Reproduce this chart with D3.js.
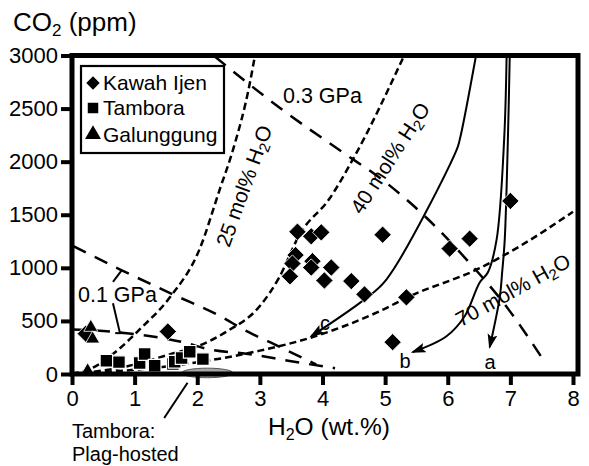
<!DOCTYPE html>
<html>
<head>
<meta charset="utf-8">
<script src="https://cdn.jsdelivr.net/npm/d3@7"></script>
<style>
body{margin:0;background:#fff;}
text{font-family:"Liberation Sans",Arial,sans-serif;fill:#000;}
</style>
</head>
<body>
<svg id="chart" width="589" height="466"></svg>
<script>
// values
var xTicks=[0,1,2,3,4,5,6,7,8];
var yTicks=[0,500,1000,1500,2000,2500,3000];

var kawahH2O=[0.22,1.53,3.6,3.82,3.98,4.96,6.03,6.35,7.0,3.57,3.52,3.48,3.84,3.82,4.14,4.03,4.46,4.67,5.34,5.12];
var kawahCO2=[380,400,1340,1297,1334,1312,1181,1275,1630,1120,1040,920,1063,1003,1003,881,875,750,722,300];

var tamboraH2O=[0.55,0.75,1.08,1.16,1.32,1.61,1.64,1.75,1.88,2.09];
var tamboraCO2=[125,112,103,188,78,94,115,150,209,140];

var galungH2O=[0.25,0.3,0.33];
var galungCO2=[30,440,330];

// isobars
var gpa03H2O=[2.28,3.37,4.27,5.02,5.66,6.30,6.93,7.57];
var gpa03CO2=[2990,2484,2109,1800,1472,1078,640,94];
var gpa01aH2O=[0.02,0.77,1.61,2.36,2.79,3.3,3.9];
var gpa01aCO2=[1205,984,750,547,403,260,90];
var gpa01bH2O=[0,0.73,1.8,2.17,2.84,3.5,4.2];
var gpa01bCO2=[420,394,295,235,187,120,55];

// isopleths
var mol25H2O=[0,0.3,0.72,1.08,1.56,2.04,2.36,2.57,2.84,2.92];
var mol25CO2=[0,50,220,420,720,1180,1740,2110,2740,2995];
var mol40H2O=[0,0.9,1.56,2.04,2.47,3.0,3.3,3.64,4.11,4.48,5.3];
var mol40CO2=[0,75,185,270,400,640,900,1320,1650,2016,2995];
var mol70H2O=[0,1,2,3,3.8,4.91,5.39,6.5,7.14,8.0];
var mol70CO2=[0,40,110,220,340,591,731,994,1200,1528];

// degassing paths
var pathCH2O=[6.45,6.19,6.14,5.02,4.67,3.82];
var pathCCO2=[2995,2203,2109,890,703,356];
var pathBH2O=[6.94,6.9,6.78,6.64,6.51,6.27,5.98,5.44];
var pathBCO2=[2995,2203,1266,956,862,544,356,206];
var pathAH2O=[6.99,6.96,6.91,6.87,6.83,6.67];
var pathACO2=[2995,2203,1266,966,722,253];

// plag-hosted field
var plagH2O=[1.75,2.57];
var plagCO2=[-35,55];

function pts(xs,ys){ return xs.map(function(v,i){ return [v,ys[i]]; }); }

var svg=d3.select("#chart");
var x=d3.scaleLinear().domain([0,8]).range([72,573]);
var y=d3.scaleLinear().domain([0,3000]).range([374,55.5]);

var line=d3.line()
	.x(function(d){ return x(d[0]); })
	.y(function(d){ return y(d[1]); })
	.curve(d3.curveMonotoneX);
var pathLine=d3.line()
	.x(function(d){ return x(d[0]); })
	.y(function(d){ return y(d[1]); })
	.curve(d3.curveCatmullRom);

svg.append("defs").append("marker")
	.attr("id","arr")
	.attr("markerUnits","userSpaceOnUse")
	.attr("markerWidth",16).attr("markerHeight",12)
	.attr("refX",13).attr("refY",5)
	.attr("orient","auto")
	.append("path")
	.attr("d","M0,0 L15,5 L0,10 L3,5 z")
	.attr("fill","#000");

svg.append("clipPath").attr("id","plot").append("rect")
	.attr("x",x(0)).attr("y",y(3000)).attr("width",578-x(0)).attr("height",y(0)-y(3000));

var g=svg.append("g").attr("clip-path","url(#plot)");

// dashed isobars
[[gpa03H2O,gpa03CO2],[gpa01aH2O,gpa01aCO2],[gpa01bH2O,gpa01bCO2]].forEach(function(s){
	g.append("path")
	.attr("d",line(pts(s[0],s[1])))
	.attr("fill","none").attr("stroke","#000")
	.attr("stroke-width",2.5).attr("stroke-dasharray","14,10");
});
// dashed isopleths
[[mol25H2O,mol25CO2],[mol40H2O,mol40CO2],[mol70H2O,mol70CO2]].forEach(function(s){
	g.append("path")
	.attr("d",line(pts(s[0],s[1])))
	.attr("fill","none").attr("stroke","#000")
	.attr("stroke-width",2.5).attr("stroke-dasharray","7,4");
});
// solid paths with arrows
[[pathCH2O,pathCCO2],[pathBH2O,pathBCO2],[pathAH2O,pathACO2]].forEach(function(s){
	svg.append("path")
	.attr("d",pathLine(pts(s[0],s[1])))
	.attr("fill","none").attr("stroke","#000")
	.attr("stroke-width",2)
	.attr("marker-end","url(#arr)");
});

// leaders for 0.1 GPa
svg.append("line").attr("x1",x(0.654)).attr("y1",y(867)).attr("x2",x(0.793)).attr("y2",y(976))
	.attr("stroke","#000").attr("stroke-width",2);
svg.append("line").attr("x1",x(0.654)).attr("y1",y(667)).attr("x2",x(0.766)).attr("y2",y(385))
	.attr("stroke","#000").attr("stroke-width",2);
svg.append("line").attr("x1",x(0.69)).attr("y1",y(385)).attr("x2",x(0.85)).attr("y2",y(385))
	.attr("stroke","#000").attr("stroke-width",2);

// plag-hosted ellipse
svg.append("ellipse")
	.attr("cx",x((plagH2O[0]+plagH2O[1])/2))
	.attr("cy",y((plagCO2[0]+plagCO2[1])/2))
	.attr("rx",(x(plagH2O[1])-x(plagH2O[0]))/2)
	.attr("ry",(y(plagCO2[0])-y(plagCO2[1]))/2)
	.attr("fill","#a6a6a6").attr("stroke","#555").attr("stroke-width",1);
svg.append("line").attr("x1",x(1.845)).attr("y1",y(-82)).attr("x2",x(1.472)).attr("y2",y(-414))
	.attr("stroke","#000").attr("stroke-width",2);

// points
svg.append("g").selectAll("path").data(pts(tamboraH2O,tamboraCO2)).enter().append("path")
	.attr("d",d3.symbol().type(d3.symbolSquare).size(160))
	.attr("transform",function(d){ return "translate("+x(d[0])+","+y(d[1])+")"; })
	.attr("fill","#000").attr("stroke","#fff").attr("stroke-width",1.2);
svg.append("g").selectAll("path").data(pts(kawahH2O,kawahCO2)).enter().append("path")
	.attr("d",d3.symbol().type(d3.symbolSquare).size(150))
	.attr("transform",function(d){ return "translate("+x(d[0])+","+y(d[1])+") rotate(45)"; })
	.attr("fill","#000").attr("stroke","#fff").attr("stroke-width",0.8);
svg.append("g").selectAll("path").data(pts(galungH2O,galungCO2)).enter().append("path")
	.attr("d",d3.symbol().type(d3.symbolTriangle).size(85))
	.attr("transform",function(d){ return "translate("+x(d[0])+","+y(d[1])+")"; })
	.attr("fill","#000").attr("stroke","#fff").attr("stroke-width",0.8);

// axes
var xAxis=d3.axisBottom(x).tickValues(xTicks).tickSize(11).tickPadding(5).tickFormat(d3.format("d"));
var yAxis=d3.axisLeft(y).tickValues(yTicks).tickSize(11).tickPadding(3).tickFormat(d3.format("d"));
var gx=svg.append("g").attr("transform","translate(0,"+y(0)+")").call(xAxis);
var gy=svg.append("g").attr("transform","translate("+x(0)+",0)").call(yAxis);
[gx,gy].forEach(function(a){
	a.select(".domain").remove();
	a.selectAll(".tick line").attr("stroke","#000").attr("stroke-width",4);
	a.selectAll(".tick text").attr("font-size",22).attr("font-family","Liberation Sans, Arial, sans-serif");
});

// frame
svg.append("rect")
	.attr("x",x(0)).attr("y",y(3000))
	.attr("width",578-x(0)).attr("height",y(0)-y(3000))
	.attr("fill","none").attr("stroke","#000").attr("stroke-width",5);

// axis titles
var t1=svg.append("text").attr("x",13).attr("y",31).attr("font-size",26);
t1.append("tspan").text("CO");
t1.append("tspan").attr("font-size",17).attr("dy",5).text("2");
t1.append("tspan").attr("dy",-5).text(" (ppm)");

var t2=svg.append("text").attr("x",268).attr("y",435).attr("font-size",24.5);
t2.append("tspan").text("H");
t2.append("tspan").attr("font-size",16).attr("dy",5).text("2");
t2.append("tspan").attr("dy",-5).text("O (wt.%)");

// legend
svg.append("rect").attr("x",81).attr("y",66).attr("width",143).attr("height",87)
	.attr("fill","#fff").attr("stroke","#000").attr("stroke-width",2.2);
var legend=[["Kawah Ijen",d3.symbolSquare,90,true],["Tambora",d3.symbolSquare,115,false],["Galunggung",d3.symbolTriangle,141.5,false]];
legend.forEach(function(l){
	svg.append("path")
	.attr("d",d3.symbol().type(l[1]).size(l[3]?90:110))
	.attr("transform","translate(93,"+(l[2]-7)+")"+(l[3]?" rotate(45)":""))
	.attr("fill","#000");
	svg.append("text").attr("x",103).attr("y",l[2]).attr("font-size",21).text(l[0]);
});

// annotations
svg.append("text").attr("x",283).attr("y",103).attr("font-size",21.5).text("0.3 GPa");
svg.append("text").attr("x",78).attr("y",302).attr("font-size",21.5).text("0.1 GPa");
svg.append("text").attr("x",325).attr("y",330).attr("font-size",20).attr("text-anchor","middle").text("c");
svg.append("text").attr("x",405).attr("y",368).attr("font-size",20).attr("text-anchor","middle").text("b");
svg.append("text").attr("x",490).attr("y",369).attr("font-size",20).attr("text-anchor","middle").text("a");

function molLabel(cx,cy,ang,pct){
	var t=svg.append("text")
		.attr("transform","translate("+cx+","+cy+") rotate("+ang+")")
		.attr("text-anchor","middle").attr("dy","0.35em").attr("font-size",21);
	t.append("tspan").text(pct+" mol% H");
	t.append("tspan").attr("font-size",15).attr("dy",4).text("2");
	t.append("tspan").attr("dy",-4).text("O");
}
molLabel(244,186,-70,25);
molLabel(390,158,-57,40);
molLabel(513,290,-29,70);

var tl=svg.append("text").attr("x",72).attr("y",438).attr("font-size",20);
tl.append("tspan").attr("x",72).text("Tambora:");
tl.append("tspan").attr("x",72).attr("dy",23).text("Plag-hosted");
</script>
</body>
</html>
